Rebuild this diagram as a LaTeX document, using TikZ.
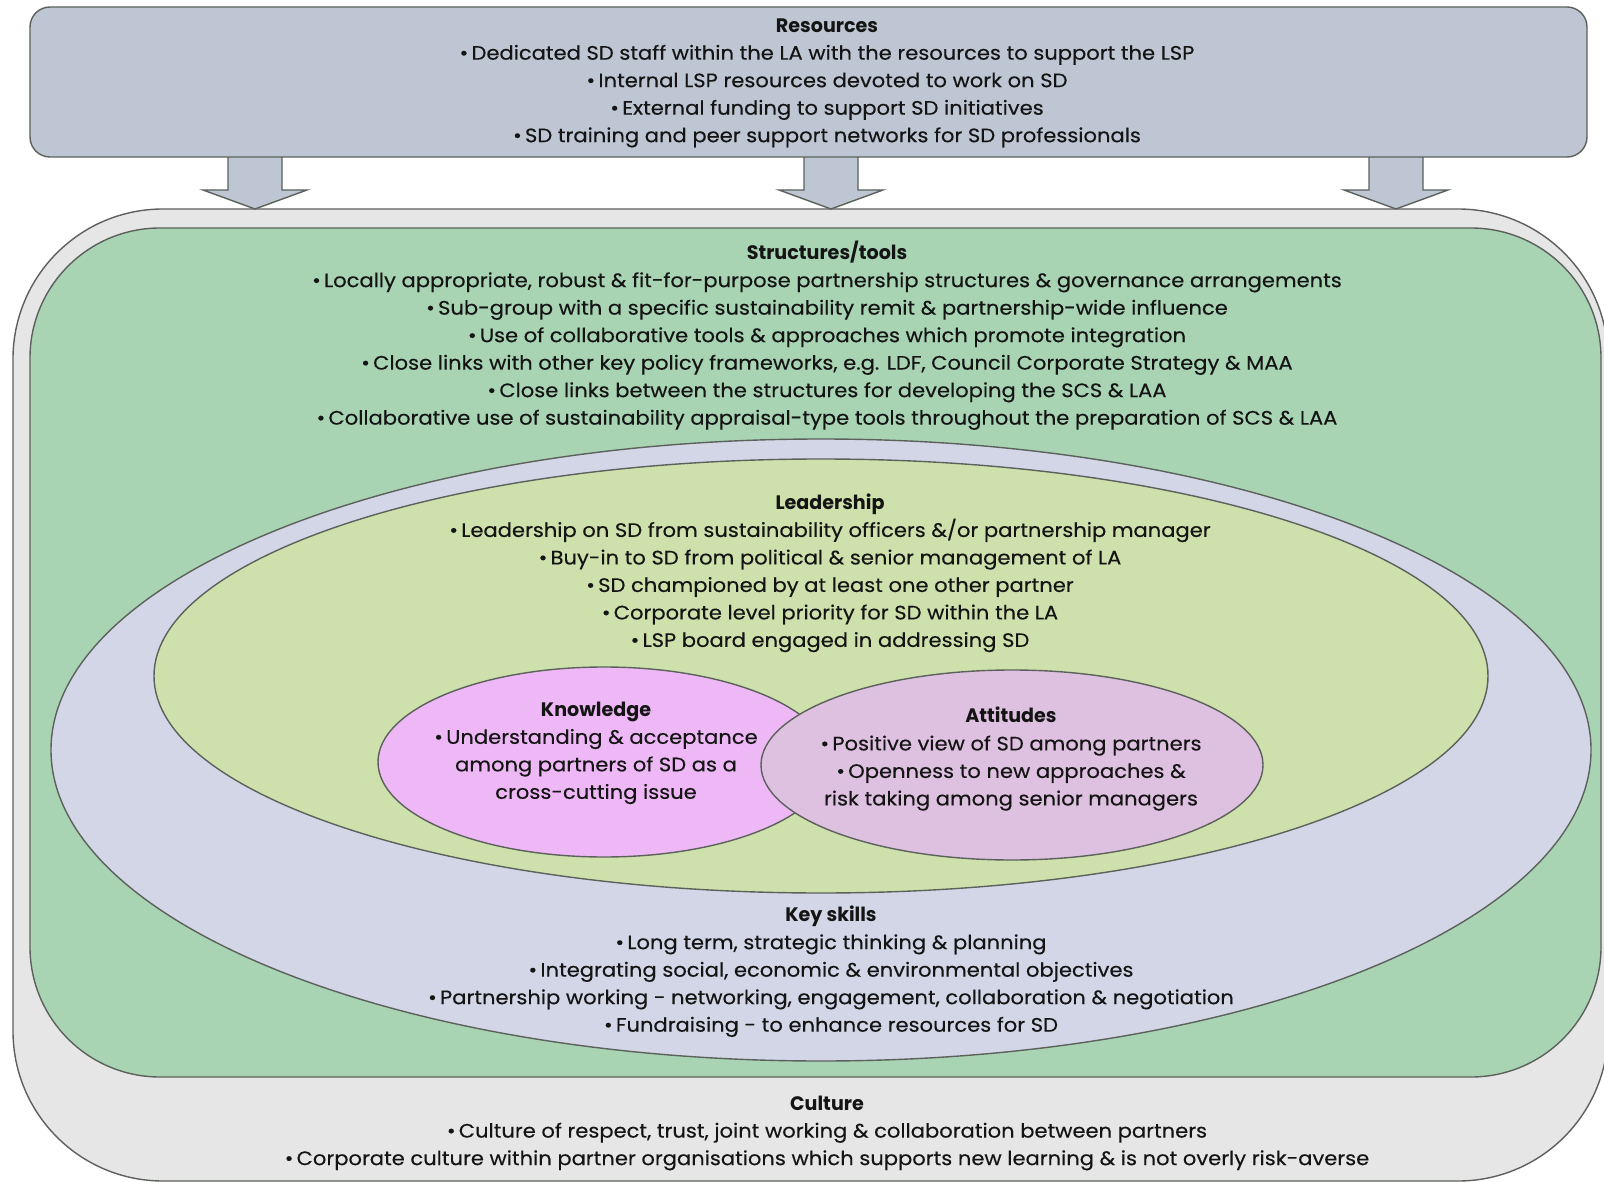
\documentclass[tikz,border=0pt]{standalone}
\usepackage{fontspec}
\setmainfont{Poppins}[FakeStretch=1.08,FakeBold=0.3]
\newfontfamily\headfont{Poppins}[FakeStretch=0.98]
\definecolor{resfill}{HTML}{BDC6D2}
\definecolor{culfill}{HTML}{E6E6E6}
\definecolor{strfill}{HTML}{A8D4B4}
\definecolor{keyfill}{HTML}{D2D6E6}
\definecolor{leafill}{HTML}{CEE0AC}
\definecolor{knofill}{HTML}{EEB8F6}
\definecolor{attfill}{HTML}{DEC0E0}
\definecolor{edge}{HTML}{5C615C}
\definecolor{ink}{HTML}{141414}
\newcommand{\hd}[1]{{\headfont\bfseries #1}}
\begin{document}
\begin{tikzpicture}[x=1pt,y=-1pt,
  region/.style={draw=edge,line width=1.4pt},
  txt/.style={align=center,inner sep=0pt,text=ink,font=\fontsize{19.5}{27.5}\selectfont},
  blockarrow/.style={fill=resfill,draw=edge,line width=1.4pt,line join=miter}]
\useasboundingbox (0,0) rectangle (1604,1182);
\fill[white] (0,0) rectangle (1604,1182);
\begin{scope}
\clip (0,0) rectangle (1604,1182);
% Culture
\draw[region,fill=culfill,rounded corners=150pt] (13,209) rectangle (1608,1181);
% Structures / tools
\draw[region,fill=strfill,rounded corners=130pt] (30,228) rectangle (1601,1077);
% Key skills
\draw[region,fill=keyfill] (821,750) ellipse [x radius=770pt, y radius=311pt];
% Leadership
\draw[region,fill=leafill] (821,676) ellipse [x radius=667pt, y radius=217pt];
% Knowledge
\draw[region,fill=knofill] (604,762) ellipse [x radius=226pt, y radius=95pt];
% Attitudes
\draw[region,fill=attfill] (1012,765) ellipse [x radius=251pt, y radius=95pt];
\end{scope}
% Arrows
\foreach \cx in {255,831,1396}{
  \draw[blockarrow] (\cx-27,150) -- (\cx-27,190) -- (\cx-52,190) -- (\cx,209) -- (\cx+52,190) -- (\cx+27,190) -- (\cx+27,150);
}
% Resources box
\draw[region,fill=resfill,rounded corners=20pt] (30,7) rectangle (1587,157);
% Texts
\node[txt] (res) at (827,83) {\hd{Resources}\\
•\,Dedicated SD staff within the LA with the resources to support the LSP\\
•\,Internal LSP resources devoted to work on SD\\
•\,External funding to support SD initiatives\\
•\,SD training and peer support networks for SD professionals};
\node[txt] (str) at (827,335.5) {\hd{Structures/tools}\\
•\,Locally appropriate, robust \& fit-for-purpose partnership structures \& governance arrangements\\
•\,Sub-group with a specific sustainability remit \& partnership-wide influence\\
•\,Use of collaborative tools \& approaches which promote integration\\
•\,Close links with other key policy frameworks, e.g. LDF, Council Corporate Strategy \& MAA\\
•\,Close links between the structures for developing the SCS \& LAA\\
•\,Collaborative use of sustainability appraisal-type tools throughout the preparation of SCS \& LAA};
\node[txt] (lea) at (830,573) {\hd{Leadership}\\
•\,Leadership on SD from sustainability officers \&/or partnership manager\\
•\,Buy-in to SD from political \& senior management of LA\\
•\,SD championed by at least one other partner\\
•\,Corporate level priority for SD within the LA\\
•\,LSP board engaged in addressing SD};
\node[txt] (kno) at (596,753) {\hd{Knowledge}\\
•\,Understanding \& acceptance\\
among partners of SD as a\\
cross-cutting issue};
\node[txt] (att) at (1011,759) {\hd{Attitudes}\\
•\,Positive view of SD among partners\\
•\,Openness to new approaches \&\\
risk taking among senior managers};
\node[txt] (key) at (831,971.5) {\hd{Key skills}\\
•\,Long term, strategic thinking \& planning\\
•\,Integrating social, economic \& environmental objectives\\
•\,Partnership working - networking, engagement, collaboration \& negotiation\\
•\,Fundraising - to enhance resources for SD};
\node[txt] (cul) at (827,1133) {\hd{Culture}\\
•\,Culture of respect, trust, joint working \& collaboration between partners\\
•\,Corporate culture within partner organisations which supports new learning \& is not overly risk-averse};
\end{tikzpicture}
\end{document}
